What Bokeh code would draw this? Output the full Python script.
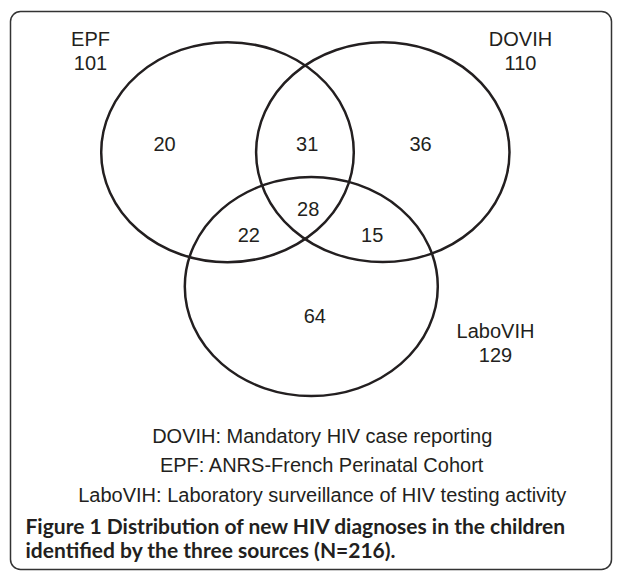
from bokeh.plotting import figure
from bokeh.models import Range1d
from bokeh.core.properties import value
from bokeh.embed import file_html
from bokeh.resources import INLINE

# ---------------- data ----------------
set_names = ["EPF", "DOVIH", "LaboVIH"]
set_totals = [101, 110, 129]
region_names = ["EPF only", "EPF & DOVIH", "DOVIH only", "All three",
                "EPF & LaboVIH", "DOVIH & LaboVIH", "LaboVIH only"]
region_counts = [20, 31, 36, 28, 22, 15, 64]
legend_lines = [
    "DOVIH: Mandatory HIV case reporting",
    "EPF: ANRS-French Perinatal Cohort",
    "LaboVIH: Laboratory surveillance of HIV testing activity",
]
caption_lines = [
    "Figure 1 Distribution of new HIV diagnoses in the children",
    "identified by the three sources (N=216).",
]

# ---------------- layout (page pixels) ----------------
W, H = 613, 571
circle_x = [227.0, 382.3, 310.8]
circle_y = [151.7, 151.7, 286.0]
circle_w = [252.6, 253.4, 253.0]
circle_h = [220.0, 220.0, 219.0]
set_label_x = [90.0, 520.0, 495.0]
set_label_y = [38.0, 38.0, 330.0]
total_gap = 24.0
region_x = [164.0, 306.7, 420.0, 307.7, 248.3, 371.7, 314.3]
region_y = [143.3, 143.3, 143.3, 208.5, 234.3, 234.3, 315.7]
legend_x = 321.7
legend_y = [435.0, 464.5, 494.0]
caption_x = 25.0
caption_y = [525.0, 549.0]
frame = dict(left=10, right=W - 2, top=11, bottom=H - 2)

INK = "#231f20"
FONT = value("Liberation Sans")
FS = "20px"

p = figure(width=W, height=H, x_range=Range1d(0, W), y_range=Range1d(H, 0),
           output_backend="svg", toolbar_location=None, min_border=0,
           x_axis_location=None, y_axis_location=None,
           background_fill_color="white", border_fill_color="white")
p.outline_line_color = None
p.xgrid.visible = False
p.ygrid.visible = False

# rounded frame
p.quad(left=[frame["left"]], right=[frame["right"]], top=[frame["top"]],
       bottom=[frame["bottom"]], border_radius=10,
       fill_color=None, line_color="#333333", line_width=1.5)

# circles (ellipses)
p.ellipse(x=circle_x, y=circle_y, width=circle_w, height=circle_h,
          fill_color=None, line_color=INK, line_width=2.5)

# set names and totals
p.text(x=set_label_x, y=set_label_y, text=set_names,
       text_font=FONT, text_font_size=FS, text_color=INK,
       text_align="center", text_baseline="middle")
p.text(x=set_label_x, y=[v + total_gap for v in set_label_y],
       text=[str(v) for v in set_totals],
       text_font=FONT, text_font_size=FS, text_color=INK,
       text_align="center", text_baseline="middle")

# region counts
p.text(x=region_x, y=region_y, text=[str(v) for v in region_counts],
       text_font=FONT, text_font_size=FS, text_color=INK,
       text_align="center", text_baseline="middle")

# legend
p.text(x=[legend_x] * len(legend_lines), y=legend_y, text=legend_lines,
       text_font=FONT, text_font_size=FS, text_color=INK,
       text_align="center", text_baseline="middle")

# caption
p.text(x=[caption_x] * len(caption_lines), y=caption_y, text=caption_lines,
       text_font=value("Lato"), text_font_style="bold", text_font_size="21px",
       text_color=INK, text_align="left", text_baseline="middle")

open("out.html", "w").write(file_html(p, INLINE))
